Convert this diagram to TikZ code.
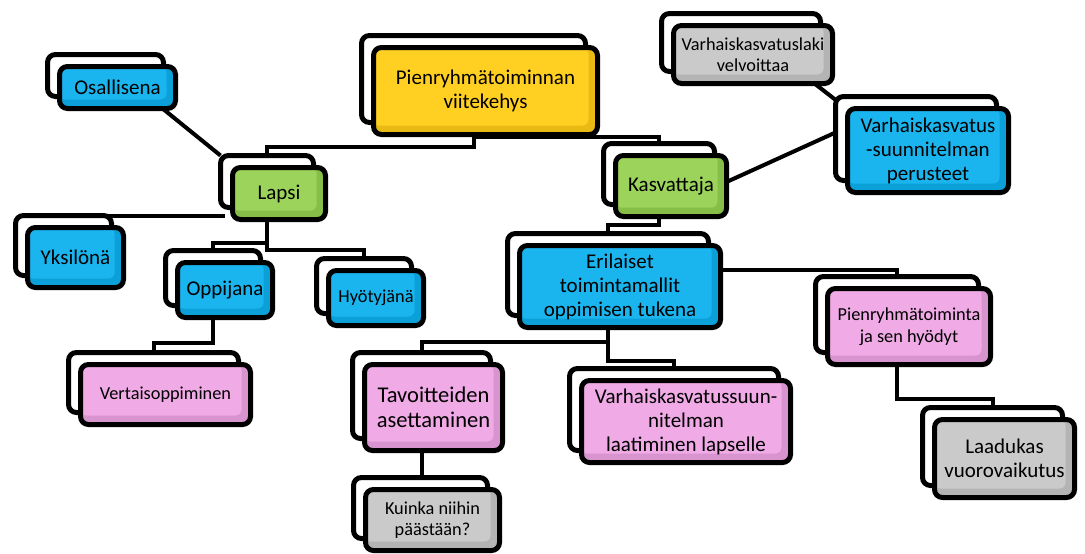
\documentclass[tikz,border=0pt]{standalone}
\usepackage{fontspec}
\setmainfont{Carlito}
\usetikzlibrary{calc,backgrounds}
\definecolor{cyellow}{HTML}{FFD022}
\definecolor{cyellowdark}{HTML}{E9BA14}
\definecolor{cblue}{HTML}{1AB5EE}
\definecolor{cbluedark}{HTML}{0BA0D8}
\definecolor{cgreen}{HTML}{9BD35B}
\definecolor{cgreendark}{HTML}{86BE48}
\definecolor{cpink}{HTML}{F0AAE6}
\definecolor{cpinkdark}{HTML}{D894CE}
\definecolor{cgrey}{HTML}{CACACA}
\definecolor{cgreydark}{HTML}{B4B4B4}
\tikzset{
  box/.style={rectangle, rounded corners=8pt, line width=5pt, inner sep=0pt, outer sep=0pt, align=center, text=black},
  backbox/.style={box, draw=black, fill=white},
  frontbox/.style={box, draw=black},
  link/.style={line width=4pt, draw=black},
  tbig/.style={font=\fontsize{21}{24}\selectfont},
  tlarge/.style={font=\fontsize{22.5}{25}\selectfont},
  tsmall/.style={font=\fontsize{18.3}{21.5}\selectfont},
}
\newcommand\mkcard[8]{%
  \node[backbox, minimum width={#4-#2-5}, minimum height={#5-#3-5}] (#1B) at ({(#2+#4)/2-12},{(#3+#5)/2-12}) {};
  \node[frontbox, #7, fill=#6dark, minimum width={#4-#2-5}, minimum height={#5-#3-5},
    path picture={\fill[#6, rounded corners=6pt] (path picture bounding box.north west) rectangle ([xshift=-9pt,yshift=9pt]path picture bounding box.south east);}] (#1) at ({(#2+#4)/2},{(#3+#5)/2}) {#8};
}
\begin{document}
\begin{tikzpicture}[x=1pt,y=-1pt]
\useasboundingbox (0,0) rectangle (1085,554);
\mkcard{root}{371}{45}{600}{137}{cyellow}{tbig}{Pienryhmätoiminnan\\viitekehys}
\mkcard{osal}{57}{64}{178}{111}{cblue}{tbig}{Osallisena}
\mkcard{laki}{671}{23}{835}{86}{cgrey}{tsmall}{Varhaiskasvatuslaki\\velvoittaa}
\mkcard{per}{845}{106}{1011}{195}{cblue}{tbig}{Varhaiskasvatus\\-suunnitelman\\perusteet}
\mkcard{lapsi}{230}{165}{328}{222}{cgreen}{tbig}{Lapsi}
\mkcard{kas}{613}{153}{729}{219}{cgreen}{tbig}{Kasvattaja}
\mkcard{yks}{25}{225}{126}{290}{cblue}{tbig}{Yksilönä}
\mkcard{opp}{175}{260}{275}{320}{cblue}{tbig}{Oppijana}
\mkcard{hyo}{326}{268}{426}{328}{cblue}{tsmall}{Hyötyjänä}
\mkcard{eri}{517}{243}{723}{330}{cblue}{tbig}{Erilaiset\\toimintamallit\\oppimisen tukena}
\mkcard{pien}{825}{286}{993}{367}{cpink}{tsmall}{Pienryhmätoiminta\\ja sen hyödyt}
\mkcard{ver}{78}{362}{253}{427}{cpink}{tsmall}{Vertaisoppiminen}
\mkcard{tav}{362}{362}{505}{453}{cpink}{tlarge}{Tavoitteiden\\asettaminen}
\mkcard{vs}{579}{378}{793}{465}{cpink}{tbig}{Varhaiskasvatussuun-\\nitelman\\laatiminen lapselle}
\mkcard{kui}{363}{487}{502}{553}{cgrey}{tsmall}{Kuinka niihin\\päästään?}
\mkcard{laa}{932}{417}{1077}{500}{cgrey}{tbig}{Laadukas\\vuorovaikutus}
\begin{scope}[on background layer]
\fill[white] (0,0) rectangle (1085,554);
\draw[link] (rootB.south) -- ++(0,24.5) -| (lapsiB.north);
\draw[link] (rootB.south) -- ++(0,14.5) -| (kasB.north);
\draw[link] (kasB.south) -- ++(0,20.5) -| (eriB.north);
\draw[link] ($(kas.east)+(0,-4)$) -- ($(perB.west)+(0,-6)$);
\draw[link] ($(laki.south east)+(-18,0)$) -- ($(perB.north west)+(6,8)$);
\draw[link] ($(osal.south east)+(-13,0)$) -- (lapsiB.north west);
\draw[link] ($(yksB.north east)+(-4,0.5)$) -- ($(lapsiB.south west)+(4,8.5)$);
\draw[link] (lapsiB.south) -- ++(0,35.5) -| (oppB.north);
\draw[link] (lapsiB.south) -- ++(0,42.5) -| (hyoB.north);
\draw[link] (oppB.south) -- ++(0,37.5) -| (verB.north);
\draw[link] ($(eri.north east)+(0,24)$) -| (pienB.north);
\draw[link] (eriB.south) -- ++(0,26.5) -| (tavB.north);
\draw[link] (eriB.south) -- ++(0,45.5) -| (vsB.north);
\draw[link] (tavB.south) -- (tavB.south |- kuiB.north);
\draw[link] (pienB.south) -- ++(0,46.5) -| (laaB.north);
\end{scope}
\end{tikzpicture}
\end{document}
